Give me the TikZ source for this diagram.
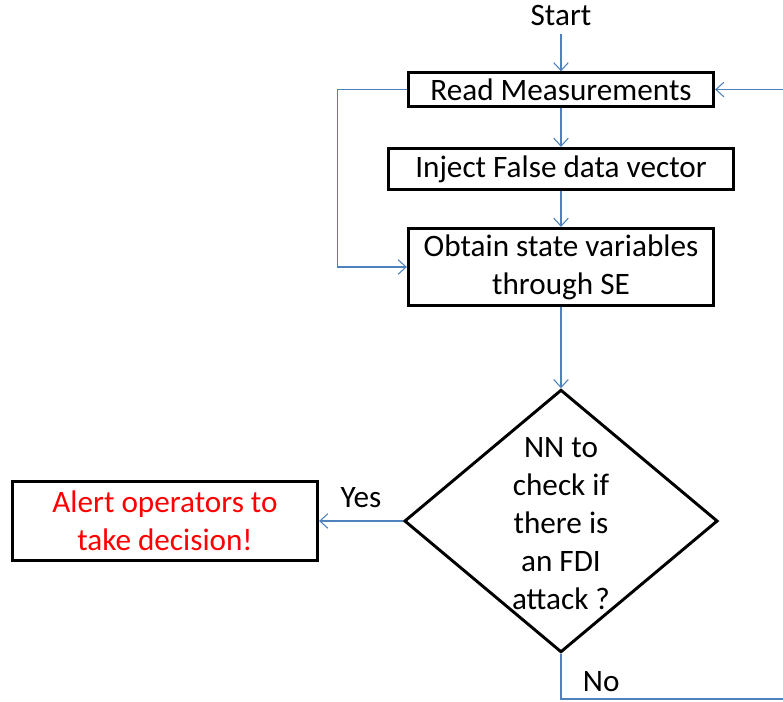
\documentclass[tikz,border=0pt]{standalone}
\usepackage{fontspec}
\setmainfont{Carlito}
\usetikzlibrary{calc, positioning}
\usetikzlibrary{arrows.meta}
\usetikzlibrary{shapes.geometric}
\definecolor{flowblue}{HTML}{4F81BD}
\definecolor{alertred}{HTML}{FF0000}

\begin{document}
\begin{tikzpicture}[x=0.75pt, y=-0.75pt,
  every node/.style={font=\fontsize{23.4}{28.5}\selectfont},
  stepbox/.style={draw=black, line width=2.2pt, rectangle, inner sep=0pt, align=center},
  flow/.style={draw=flowblue, line width=0.8pt, -{Straight Barb[length=6pt, width=11pt]}},
  plain/.style={draw=flowblue, line width=0.8pt}]
\useasboundingbox (0,0) rectangle (783,701);
\node[inner sep=0pt] (start) at (561,15) {Start};
\node[stepbox, minimum width=229pt, minimum height=25pt] (read) at (561,89.5) {Read Measurements};
\node[stepbox, minimum width=259pt, minimum height=31pt] (inject) at (561,169) {Inject False data vector};
\node[stepbox, minimum width=229pt, minimum height=58pt] (obtain) at (561,267) {Obtain state variables\\through SE};
\node[draw=black, line width=2.2pt, diamond, minimum width=235pt, minimum height=197pt, inner sep=0pt] (nn) at (561,521) {};
\node[align=center, inner sep=0pt] (nntext) at (561,524) {NN to\\check if\\there is\\an FDI\\attack ?};
\node[stepbox, minimum width=229pt, minimum height=59pt, text=alertred] (alert) at (165,521) {Alert operators to\\take decision!};
\coordinate (noCorner) at (792,699);
% main flow
\draw[flow] ($(start.south)+(0,8)$) -- (read.north);
\draw[flow] (read.south) -- (inject.north);
\draw[flow] (inject.south) -- (obtain.north);
\draw[flow] (obtain.south) -- (nn.north);
% loop back to the state estimate
\draw[flow] (read.west) -- ++(-69,0) |- (obtain.west);
\draw[flow] (nn.west) -- (alert.east) node[midway, above, yshift=6pt] {Yes};
\draw[plain] (nn.south) |- (noCorner) node[pos=0.5, above right, xshift=14pt, yshift=3pt, inner sep=2pt] {No};
\draw[flow] (noCorner) |- (read.east);
\end{tikzpicture}
\end{document}
